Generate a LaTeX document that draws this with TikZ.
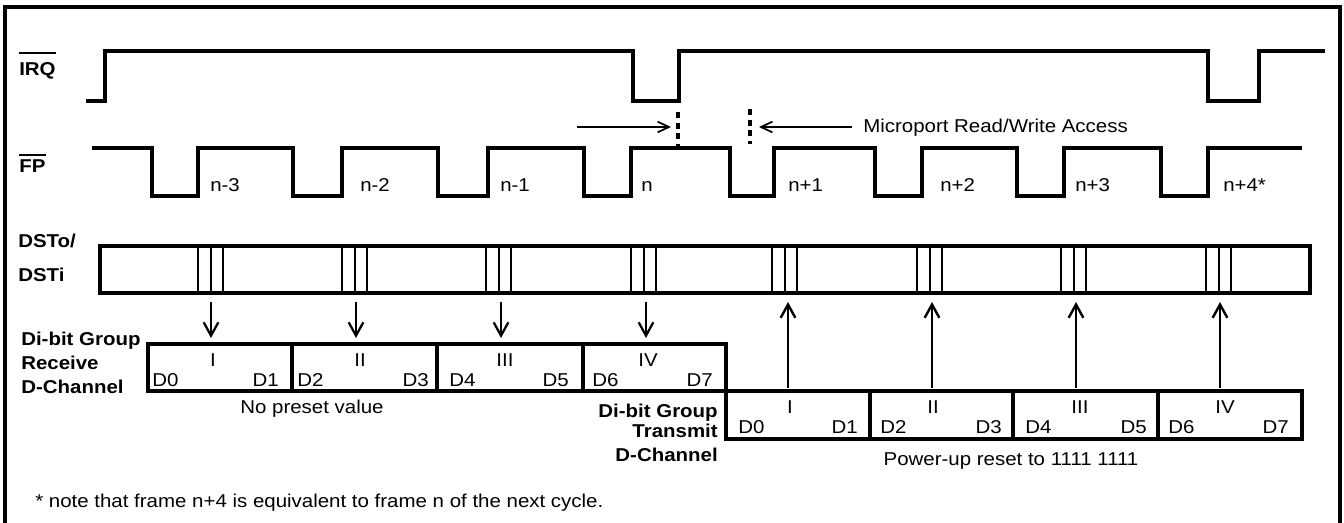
\documentclass[tikz,border=0pt]{standalone}
\usepackage{fontspec}
\setmainfont{Liberation Sans}[FakeStretch=1.1]
\usetikzlibrary{arrows.meta}
\begin{document}
\begin{tikzpicture}[x=0.75pt,y=-0.75pt,
  font=\fontsize{13.95}{16}\selectfont,
  sig/.style={line width=2.3pt, line join=miter},
  boxl/.style={line width=2.3pt},
  slot/.style={line width=1.3pt},
  dn/.style={line width=1.7pt, -{Straight Barb[length=10pt,width=11pt,line width=1.7pt]}},
  upa/.style={line width=2pt, -{Straight Barb[length=10pt,width=11pt,line width=1.8pt]}},
  mp/.style={line width=1.3pt, -{Straight Barb[length=8.5pt,width=8pt,line width=1.3pt]}},
  dsh/.style={line width=2.3pt, dash pattern=on 4.5pt off 3.5pt},
  lbl/.style={inner sep=0pt, anchor=base west, font=\fontsize{13.95}{16}\selectfont\bfseries},
  lblr/.style={inner sep=0pt, anchor=base east, font=\fontsize{13.95}{16}\selectfont\bfseries},
  tw/.style={inner sep=0pt, anchor=base west},
  te/.style={inner sep=0pt, anchor=base east},
  tc/.style={inner sep=0pt, anchor=base}]
\useasboundingbox (0,0) rectangle (1344,523);
% frame
\draw[line width=2.4pt] (5,535) -- (5,7) -- (1340,7) -- (1340,535);

% labels
\node[lbl] (irq) at (19,76) {IRQ};
\draw[line width=1.6pt] (irq.west |- 0,53) -- (irq.east |- 0,53);
\node[lbl] (fp) at (19,173) {FP};
\draw[line width=1.6pt] (fp.west |- 0,155) -- (fp.east |- 0,155);
\node[lbl] (dsto) at (18,248) {DSTo/};
\node[lbl] (dsti) at (18,282) {DSTi};
\node[lbl] (rx1) at (21,346) {Di-bit Group};
\node[lbl] (rx2) at (21,370) {Receive};
\node[lbl] (rx3) at (21,393) {D-Channel};
\node[lblr] (tx1) at (718,417) {Di-bit Group};
\node[lblr] (tx2) at (718,437) {Transmit};
\node[lblr] (tx3) at (718,461) {D-Channel};

% IRQ signal
\draw[sig] (86,101) -- (105,101) -- (105,51) -- (633,51) -- (633,101) -- (679,101) -- (679,51)
  -- (1208,51) -- (1208,101) -- (1259,101) -- (1259,51) -- (1325,51);

% FP signal
\draw[sig] (92,148) -- (152,148) -- (152,196) -- (198,196) -- (198,148) -- (293,148) -- (293,196)
  -- (342,196) -- (342,148) -- (438,148) -- (438,196) -- (488,196) -- (488,148) -- (584,148)
  -- (584,196) -- (631,196) -- (631,148) -- (730,148) -- (730,196) -- (774,196) -- (774,148)
  -- (875,148) -- (875,196) -- (922,196) -- (922,148) -- (1017,148) -- (1017,196) -- (1064,196)
  -- (1064,148) -- (1161,148) -- (1161,196) -- (1208,196) -- (1208,148) -- (1302,148);
\node[tw] (f1) at (210,192) {n-3};
\node[tw] (f2) at (360,192) {n-2};
\node[tw] (f3) at (500,192) {n-1};
\node[tw] (f4) at (641,192) {n};
\node[tw] (f5) at (788,192) {n+1};
\node[tw] (f6) at (940,192) {n+2};
\node[tw] (f7) at (1075,192) {n+3};
\node[tw] (f8) at (1223,192) {n+4*};

% microport access
\coordinate (d1t) at (678,112); \coordinate (d1b) at (678,147);
\coordinate (d2t) at (750,109); \coordinate (d2b) at (750,144);
\draw[dsh] (d1t) -- (d1b);
\draw[dsh] (d2t) -- (d2b);
\node[tw] (mpt) at (863,133) {Microport Read/Write Access};
\coordinate (a1s) at (577,127); \coordinate (a1e) at (671,127);
\coordinate (a2s) at (852,127); \coordinate (a2e) at (759,127);
\draw[mp] (a1s) -- (a1e);
\draw[mp] (a2s) -- (a2e);

% DSTo/DSTi
\draw[boxl] (100,246) rectangle (1310,293);
\foreach \s in {198,342,486,631,772,917,1061,1206}
  \draw[slot] (\s,246) -- (\s,293) (\s+13,246) -- (\s+13,293) (\s+25,246) -- (\s+25,293);

% arrows
\foreach \x in {211,356,501,646} \draw[dn] (\x,302) -- (\x,338);
\foreach \x in {788,932,1076,1220} \draw[upa] (\x,388) -- (\x,302);

% receive box
\draw[boxl] (148,344) rectangle (726,391);
\foreach \x in {292,437,583} \draw[boxl] (\x,344) -- (\x,391);
\node[tc] at (213,367) {I};
\node[tc] at (360,367) {II};
\node[tc] at (505,367) {III};
\node[tc] at (648,367) {IV};
\node[tw] at (152,387) {D0};
\node[te] at (279,387) {D1};
\node[tw] at (297,387) {D2};
\node[te] at (429,387) {D3};
\node[tw] at (449,387) {D4};
\node[te] at (569,387) {D5};
\node[tw] at (592,387) {D6};
\node[te] at (713,387) {D7};
\node[tc] (nop) at (312,413) {No preset value};

% transmit box
\draw[boxl] (726,391) rectangle (1302,439);
\foreach \x in {870,1013,1158} \draw[boxl] (\x,391) -- (\x,439);
\node[tc] at (790,413) {I};
\node[tc] at (933,413) {II};
\node[tc] at (1080,413) {III};
\node[tc] at (1225,413) {IV};
\node[tw] at (738,433) {D0};
\node[te] at (858,433) {D1};
\node[tw] at (880,433) {D2};
\node[te] at (1002,433) {D3};
\node[tw] at (1025,433) {D4};
\node[te] at (1147,433) {D5};
\node[tw] at (1168,433) {D6};
\node[te] at (1289,433) {D7};
\node[tc] (pur) at (1011,465) {Power-up reset to 1111 1111};

% note
\node[tw] (note) at (35,507) {* note that frame n+4 is equivalent to frame n of the next cycle.};
\end{tikzpicture}
\end{document}
